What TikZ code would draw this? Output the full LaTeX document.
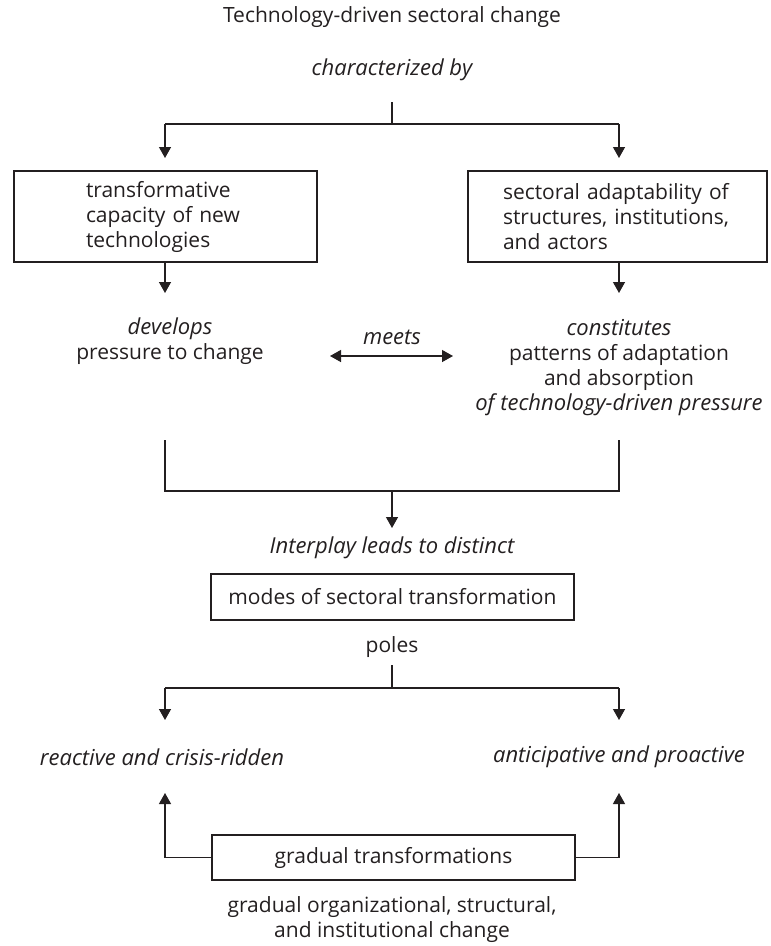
\documentclass[tikz,border=0pt]{standalone}
\usepackage{fontspec}
\setmainfont{Open Sans}
\usetikzlibrary{arrows.meta}
\definecolor{ink}{HTML}{231F20}
\newcommand{\fs}{\fontsize{21}{25}\selectfont}
\newcommand{\fsi}{\fontsize{22}{25}\selectfont\itshape}
\tikzset{
  x=1pt, y=-1pt,
  conn/.style={draw=ink, line width=1.3pt, -{Triangle[width=12pt,length=11pt]}},
  dconn/.style={draw=ink, line width=1.3pt, {Triangle[width=12pt,length=11pt]}-{Triangle[width=12pt,length=11pt]}},
  plain/.style={draw=ink, line width=1.3pt},
  lbl/.style={text=ink, font=\fs, inner sep=0pt, align=center},
  ilbl/.style={lbl, font=\fsi},
  boxed/.style={draw=ink, line width=1.3pt, text=ink, font=\fs},
}
\begin{document}
\begin{tikzpicture}
\useasboundingbox (0,0) rectangle (771,946);
% top
\node[lbl] (title) at (392,17) {Technology-driven sectoral change};
\node[ilbl] (char) at (392,70) {characterized by};
\coordinate (t1) at (392,102);
\coordinate (t2) at (392,124);
\coordinate (tl) at (165,124);
\coordinate (tr) at (619,124);
\node[boxed, text width=159pt, inner xsep=72pt, inner ysep=0pt, minimum height=91pt, align=left] (boxL) at (165.5,216.5)
  {transformative\\capacity of new\\technologies};
\node[boxed, text width=229pt, inner xsep=35pt, inner ysep=0pt, minimum height=91pt, align=left] (boxR) at (617.5,216.5)
  {sectoral adaptability of\\structures, institutions,\\and actors};
\coordinate (aL) at (165,158);
\coordinate (aR) at (619,158);
\draw[plain] (t1) -- (t2);
\draw[plain] (tl) -- (tr);
\draw[conn] (tl) -- (aL);
\draw[conn] (tr) -- (aR);
% middle
\node[lbl] (devL) at (170,341.5) {{\fsi develops}\\pressure to change};
\node[lbl] (devR) at (619,367.5) {{\fsi constitutes}\\patterns of adaptation\\and absorption\\{\fsi of technology-driven pressure}};
\coordinate (sL) at (165,262);
\coordinate (sR) at (619,262);
\coordinate (dL) at (165,293);
\coordinate (dR) at (619,293);
\draw[conn] (sL) -- (dL);
\draw[conn] (sR) -- (dR);
\node[ilbl] (meets) at (392,337) {meets};
\coordinate (mL) at (330,356);
\coordinate (mR) at (453,356);
\draw[dconn] (mL) -- (mR);
% bracket
\coordinate (bL) at (165,440);
\coordinate (bR) at (619,440);
\coordinate (bLL) at (165,491);
\coordinate (bRR) at (619,491);
\coordinate (bM) at (392,491);
\coordinate (bA) at (392,528);
\draw[plain] (bL) -- (bLL) -- (bRR) -- (bR);
\draw[conn] (bM) -- (bA);
\node[ilbl] (inter) at (392,548) {Interplay leads to distinct};
\node[boxed, minimum width=363pt, minimum height=46pt, inner sep=0pt] (modes) at (392.5,597) {modes of sectoral transformation};
\node[lbl] (poles) at (392,647) {poles};
\coordinate (p1) at (392,665);
\coordinate (p2) at (392,688);
\coordinate (pl) at (165,688);
\coordinate (pr) at (619,688);
\coordinate (pla) at (165,720);
\coordinate (pra) at (619,720);
\draw[plain] (p1) -- (p2);
\draw[plain] (pl) -- (pr);
\draw[conn] (pl) -- (pla);
\draw[conn] (pr) -- (pra);
\node[ilbl] (react) at (162,757) {reactive and crisis-ridden};
\node[ilbl] (antic) at (619,757) {anticipative and proactive};
% bottom
\node[boxed, minimum width=363pt, minimum height=45pt, inner sep=0pt] (grad) at (393.5,857.5) {gradual transformations};
\coordinate (gl) at (165,857.5);
\coordinate (gr) at (619,857.5);
\coordinate (gla) at (165,793);
\coordinate (gra) at (619,793);
\draw[conn] (grad.west) -- (gl) -- (gla);
\draw[conn] (grad.east) -- (gr) -- (gra);
\node[lbl] (gradtxt) at (392,920) {gradual organizational, structural,\\and institutional change};
\end{tikzpicture}
\end{document}
